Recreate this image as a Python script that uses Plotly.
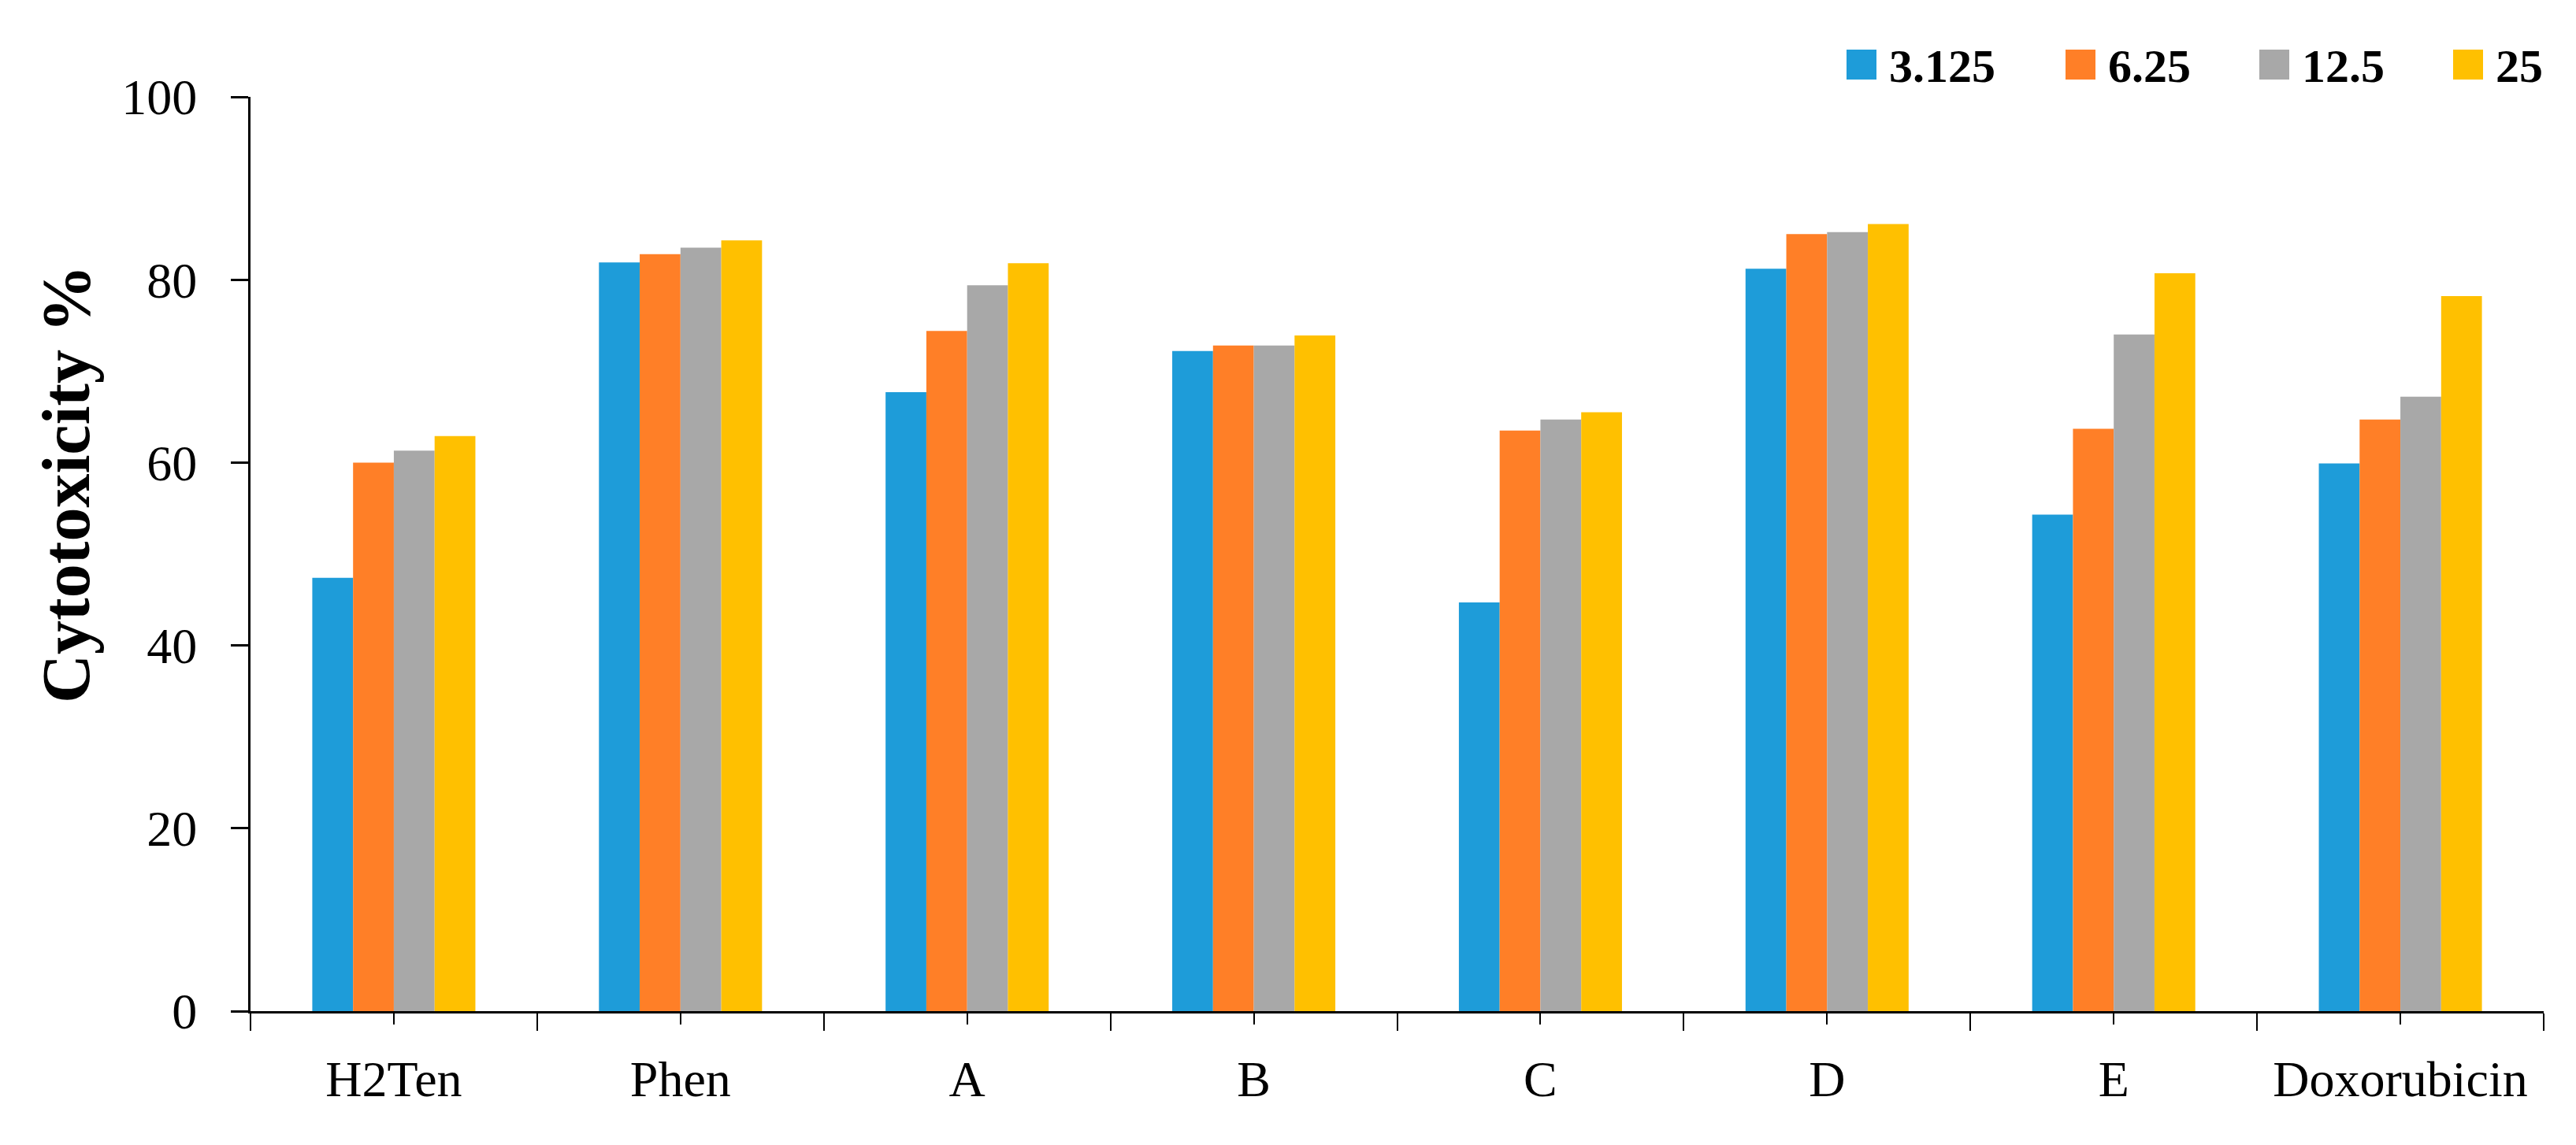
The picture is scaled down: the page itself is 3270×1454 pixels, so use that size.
import plotly.graph_objects as go

# ---- data ----
categories = ["H2Ten", "Phen", "A", "B", "C", "D", "E", "Doxorubicin"]
series_names = ["3.125", "6.25", "12.5", "25"]
vals_3125 = [47.4, 81.9, 67.7, 72.2, 44.7, 81.2, 54.3, 59.9]
vals_625 = [60.0, 82.8, 74.4, 72.8, 63.5, 85.0, 63.7, 64.7]
vals_125 = [61.3, 83.5, 79.4, 72.8, 64.7, 85.2, 74.0, 67.2]
vals_25 = [62.9, 84.3, 81.8, 73.9, 65.5, 86.1, 80.7, 78.2]
y_ticks = [0, 20, 40, 60, 80, 100]
y_title = "Cytotoxicity %"

# ---- style ----
colors = ["#1E9CD9", "#FF7F27", "#A8A8A8", "#FFC000"]
FONT = "Palatino Linotype, Book Antiqua, Palatino, Liberation Serif, serif"
W, H = 3270, 1454
OFF = 8  # page offset of the plot div (body margin)
PLOT_L, PLOT_R, PLOT_T, PLOT_B = 318, 3229, 123, 1284  # page pixels
PW, PH = PLOT_R - PLOT_L, PLOT_B - PLOT_T
L = PLOT_L - OFF
T = PLOT_T - OFF
R = W - L - PW
B = H - T - PH


def px_x(px):
    return (px - PLOT_L) / PW


def px_y(py):
    return (PLOT_B - py) / PH


series_vals = [vals_3125, vals_625, vals_125, vals_25]

fig = go.Figure()
for name, vals, c in zip(series_names, series_vals, colors):
    fig.add_trace(go.Bar(x=categories, y=vals, name=name, marker_color=c,
                         marker_line_width=0, showlegend=False))

fig.update_layout(
    width=W, height=H,
    margin=dict(l=L, r=R, t=T, b=B, pad=0),
    paper_bgcolor="white", plot_bgcolor="white",
    barmode="group", bargap=0.431, bargroupgap=0,
    font=dict(family=FONT, color="black"),
    xaxis=dict(
        type="category", showline=True, linecolor="black", linewidth=3,
        ticks="outside", tickson="boundaries", ticklen=22, tickwidth=2,
        tickcolor="black", showgrid=False, zeroline=False,
        tickfont=dict(family=FONT, size=64, color="black"),
        ticklabelstandoff=28,
    ),
    xaxis2=dict(
        overlaying="x", anchor="y", side="bottom", type="linear",
        range=[-0.5, len(categories) - 0.5],
        tickmode="array", tickvals=list(range(len(categories))),
        ticks="outside", ticklen=16, tickwidth=2, tickcolor="black",
        showticklabels=False, showline=False, showgrid=False, zeroline=False,
    ),
    yaxis=dict(
        range=[0, 100], tickmode="array", tickvals=y_ticks,
        showline=True, linecolor="black", linewidth=3,
        ticks="outside", ticklen=22, tickwidth=3, tickcolor="black",
        showgrid=False, zeroline=False,
        tickfont=dict(family=FONT, size=64, color="black"),
        ticklabelstandoff=30,
    ),
)

# invisible trace to bind xaxis2
fig.add_trace(go.Scatter(x=[None], y=[None], xaxis="x2", yaxis="y",
                         showlegend=False, hoverinfo="skip"))

# y-axis title
fig.add_annotation(text=f"<b>{y_title}</b>", xref="paper", yref="paper",
                   x=px_x(84), y=px_y(615), textangle=-90, showarrow=False,
                   font=dict(family=FONT, size=86, color="black"),
                   xanchor="center", yanchor="middle")

# manual legend (swatches + labels)
legend_swatch_left = [2344, 2622, 2868, 3114]
sw = 38
legend_cy = 82
for name, c, sx in zip(series_names, colors, legend_swatch_left):
    fig.add_shape(type="rect", xref="paper", yref="paper",
                  x0=px_x(sx), x1=px_x(sx + sw),
                  y0=px_y(legend_cy + sw / 2), y1=px_y(legend_cy - sw / 2),
                  fillcolor=c, line_width=0)
    fig.add_annotation(text=f"<b>{name}</b>", xref="paper", yref="paper",
                       x=px_x(sx + sw + 14), y=px_y(legend_cy + 2),
                       xanchor="left", yanchor="middle", showarrow=False,
                       font=dict(family=FONT, size=60, color="black"))

fig.write_html("out.html")
